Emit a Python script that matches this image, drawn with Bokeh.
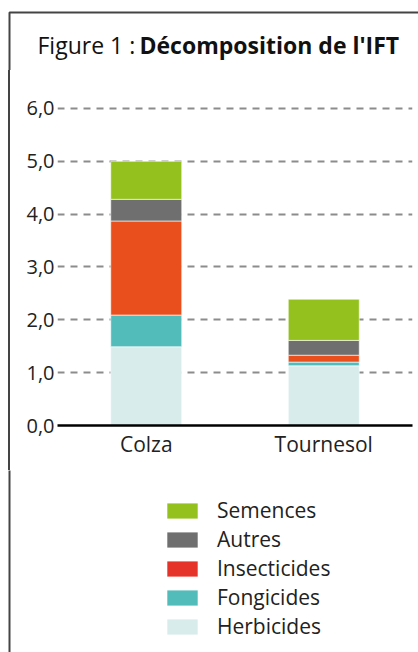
from bokeh.plotting import figure
from bokeh.models import (FixedTicker, Label, Legend, LegendItem, BoxAnnotation, Range1d, Spacer)
from bokeh.layouts import column, row
from bokeh.embed import file_html
from bokeh.resources import INLINE

categories = ["Colza", "Tournesol"]
herbicides = [1.49, 1.13]
fongicides = [0.60, 0.07]
insecticides = [1.78, 0.13]
autres = [0.41, 0.28]
semences = [0.72, 0.78]

series_names = ["Herbicides", "Fongicides", "Insecticides", "Autres", "Semences"]
bar_colors = ["#D8ECEB", "#52BCBA", "#E94F1D", "#6F6F6F", "#95C11F"]
legend_colors = ["#D8ECEB", "#52BCBA", "#E6332A", "#6F6F6F", "#95C11F"]
y_ticks = [0, 1, 2, 3, 4, 5, 6]
y_tick_labels = ["0,0", "1,0", "2,0", "3,0", "4,0", "5,0", "6,0"]

FONT = "Open Sans"
TXT = "#222222"
BORDER = "#444444"
BORDER_CSS = ("linear-gradient(to right, white 8px, #444444 8px, #444444 10px, white 10px)")


def blank(width, height):
    f = figure(width=width, height=height, x_range=Range1d(0, 1), y_range=Range1d(0, 1),
               x_axis_type=None, y_axis_type=None, output_backend="svg",
               toolbar_location=None, min_border=0)
    f.outline_line_color = None
    f.grid.visible = False
    f.border_fill_color = "white"
    f.background_fill_color = "white"
    return f


def left_border(f, top=-20):
    f.add_layout(BoxAnnotation(left=9, right=2000, top=top, bottom=2000,
                               left_units="canvas", right_units="canvas",
                               top_units="canvas", bottom_units="canvas",
                               fill_color=None, fill_alpha=0,
                               line_color=BORDER, line_alpha=1.0, line_width=2))


# ---------- title ----------
TITLE_H = 70
TITLE_BASE = TITLE_H - 44.5
title_fig = blank(418, TITLE_H)
left_border(title_fig, top=12)
title_fig.add_layout(Label(x=37, y=TITLE_BASE, x_units="screen", y_units="screen",
                           text="Figure 1 : ", text_font=FONT, text_font_size="23px",
                           text_color="#111111", text_baseline="alphabetic",
                           text_align="left"))
title_fig.add_layout(Label(x=139, y=TITLE_BASE, x_units="screen", y_units="screen",
                           text="Décomposition de l'IFT", text_font=FONT,
                           text_font_size="23px", text_font_style="bold",
                           text_color="#111111", text_baseline="alphabetic",
                           text_align="left"))

# ---------- main chart ----------
MAIN_H = 400
strip = Spacer(width=11, height=MAIN_H, styles={"background": BORDER_CSS})

p = figure(x_range=categories, y_range=Range1d(0, 6.15), width=407, height=MAIN_H,
           output_backend="svg", toolbar_location=None,
           min_border_left=46, min_border_right=6, min_border_top=30, min_border_bottom=45)
p.outline_line_color = None
p.background_fill_color = "white"
p.border_fill_color = "white"

data = {"cat": categories, "Herbicides": herbicides, "Fongicides": fongicides,
        "Insecticides": insecticides, "Autres": autres, "Semences": semences}
p.vbar_stack(series_names, x="cat", width=0.4, color=bar_colors, source=data,
             line_color="white", line_width=0.6)

p.yaxis.ticker = FixedTicker(ticks=y_ticks)
p.yaxis.major_label_overrides = {float(t): l for t, l in zip(y_ticks, y_tick_labels)}
p.yaxis.axis_line_color = None
p.yaxis.major_tick_line_color = None
p.yaxis.minor_tick_line_color = None
p.yaxis.major_tick_out = 0
p.yaxis.minor_tick_out = 0
p.yaxis.major_label_standoff = 3
p.yaxis.major_label_text_font = FONT
p.yaxis.major_label_text_font_size = "20px"
p.yaxis.major_label_text_color = TXT

p.xaxis.axis_line_color = "black"
p.xaxis.axis_line_width = 2.5
p.xaxis.major_tick_line_color = None
p.xaxis.minor_tick_line_color = None
p.xaxis.major_tick_out = 0
p.xaxis.minor_tick_out = 0
p.xaxis.major_label_standoff = 4
p.xaxis.major_label_text_font = FONT
p.xaxis.major_label_text_font_size = "21px"
p.xaxis.major_label_text_color = TXT

p.xgrid.grid_line_color = None
p.ygrid.grid_line_color = "#8c8c8c"
p.ygrid.grid_line_width = 1.8
p.ygrid.grid_line_dash = "7 6"

# ---------- legend ----------
LEG_H = 652 - TITLE_H - MAIN_H
leg_fig = blank(418, LEG_H)
left_border(leg_fig)
dummies = {}
for name, col in zip(series_names, legend_colors):
    # legend-only swatches, placed outside the visible range
    dummies[name] = leg_fig.vbar(x=[5], top=[5], bottom=[4], width=0.4,
                                 fill_color=col, line_color=None)
items = [LegendItem(label=n, renderers=[dummies[n]]) for n in reversed(series_names)]
legend = Legend(items=items, location=(163, 12), orientation="vertical",
                glyph_width=38, glyph_height=19, label_height=19, spacing=1,
                padding=0, margin=0, border_line_color=None, background_fill_alpha=0,
                label_text_font=FONT, label_text_font_size="21px", label_text_color=TXT,
                label_standoff=16)
leg_fig.add_layout(legend, "center")

layout = column(title_fig, row(strip, p), leg_fig)
open("out.html", "w").write(file_html(layout, INLINE))
